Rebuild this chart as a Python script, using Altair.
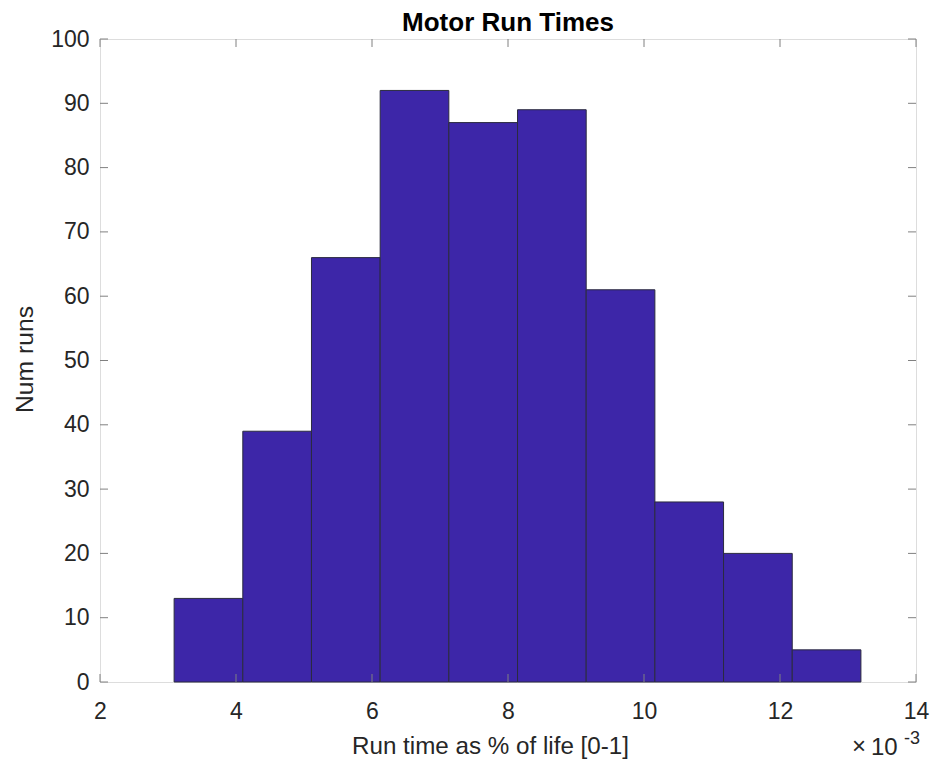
import altair as alt
import pandas as pd

# Data
bin_edges = [3.09, 4.10, 5.11, 6.12, 7.13, 8.14, 9.15, 10.16, 11.17, 12.18, 13.19]
counts = [13, 39, 66, 92, 87, 89, 61, 28, 20, 5]
x_ticks = [2, 4, 6, 8, 10, 12, 14]
y_ticks = [0, 10, 20, 30, 40, 50, 60, 70, 80, 90, 100]
title_text = ["Motor Run Times"]

df = pd.DataFrame({"x0": bin_edges[:-1], "x1": bin_edges[1:], "count": counts})
xt = pd.DataFrame({"t": x_ticks})
yt = pd.DataFrame({"t": y_ticks})

W, H = 816, 643
FONT = "Liberation Sans"
TXT = "#262626"
AX = "#808080"
TL = 8

x_scale = alt.Scale(domain=[2, 14], nice=False, zero=False)
y_scale = alt.Scale(domain=[0, 100], nice=False)

bars = alt.Chart(df).mark_rect(fill="#3D26A8", stroke="#2B2B3F", strokeWidth=1).encode(
    x=alt.X("x0:Q", scale=x_scale, axis=alt.Axis(
        values=x_ticks, format="d", title="Run time as % of life [0-1]", tickSize=0, labelPadding=18,
        domain=False, grid=False, labelFont=FONT, labelFontSize=23, labelColor=TXT,
        labelFlush=False, labelOverlap=False,
        titleFont=FONT, titleFontSize=24.2, titleFontWeight="normal", titleColor=TXT,
        titleX=390, titleY=71, titleAlign="center", titleBaseline="alphabetic")),
    x2="x1:Q",
    y=alt.Y("count:Q", scale=y_scale, axis=alt.Axis(
        values=y_ticks, format="d", title="Num runs", tickSize=0, labelPadding=11,
        domain=False, grid=False, labelFont=FONT, labelFontSize=23, labelColor=TXT,
        labelFlush=False, labelOverlap=False,
        titleFont=FONT, titleFontSize=24.7, titleFontWeight="normal", titleColor=TXT,
        titleX=-68, titleY=320, titleBaseline="alphabetic")),
    y2=alt.datum(0),
)

bottom_ticks = alt.Chart(xt).mark_rule(color=AX, strokeWidth=1).encode(
    x=alt.X("t:Q", scale=x_scale), y=alt.value(H), y2=alt.value(H - TL))
top_ticks = alt.Chart(xt).mark_rule(color=AX, strokeWidth=1).encode(
    x=alt.X("t:Q", scale=x_scale), y=alt.value(0), y2=alt.value(TL))
left_ticks = alt.Chart(yt).mark_rule(color=AX, strokeWidth=1).encode(
    y=alt.Y("t:Q", scale=y_scale), x=alt.value(0), x2=alt.value(TL))
right_ticks = alt.Chart(yt).mark_rule(color=AX, strokeWidth=1).encode(
    y=alt.Y("t:Q", scale=y_scale), x=alt.value(W), x2=alt.value(W - TL))

title = alt.Chart(pd.DataFrame({"s": title_text})).mark_text(
    font=FONT, fontSize=26, fontWeight="bold", color="#000000", align="center", baseline="alphabetic").encode(
    text="s:N", x=alt.value(W / 2), y=alt.value(-8))

exp_x = alt.Chart(pd.DataFrame({"s": ["×"]})).mark_text(
    font=FONT, fontSize=24, color=TXT, align="left", baseline="alphabetic").encode(
    text="s:N", x=alt.value(752), y=alt.value(715))
exp_base = alt.Chart(pd.DataFrame({"s": ["10"]})).mark_text(
    font=FONT, fontSize=24, color=TXT, align="left", baseline="alphabetic").encode(
    text="s:N", x=alt.value(771), y=alt.value(716))
exp_sup = alt.Chart(pd.DataFrame({"s": ["-3"]})).mark_text(
    font=FONT, fontSize=18, color=TXT, align="left", baseline="alphabetic").encode(
    text="s:N", x=alt.value(804), y=alt.value(705))

chart = alt.layer(bars, bottom_ticks, top_ticks, left_ticks, right_ticks, title,
                  exp_x, exp_base, exp_sup).properties(
    width=W, height=H,
    autosize=alt.AutoSizeParams(type="none"),
    padding={"left": 100, "top": 39, "right": 16, "bottom": 79},
).configure_view(stroke=AX, strokeWidth=1).configure(background="white")

chart.save("out.html", embed_options={"renderer": "svg", "actions": False})
